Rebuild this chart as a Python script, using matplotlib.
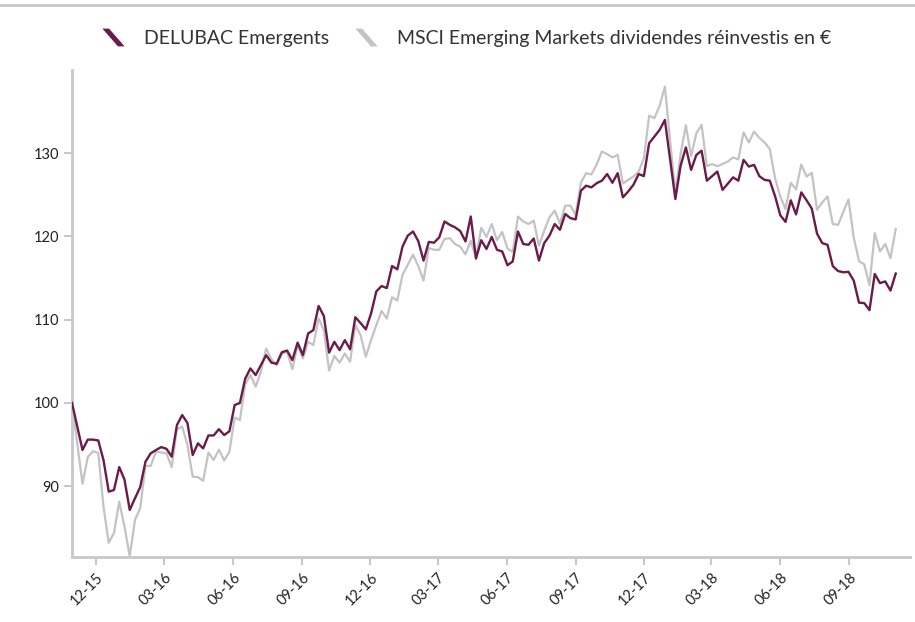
import numpy as np
import pandas as pd
import matplotlib
matplotlib.use("Agg")
import matplotlib.pyplot as plt
import matplotlib.dates as mdates
from matplotlib.lines import Line2D
from matplotlib.path import Path

plt.rcParams['font.family'] = ['Lato', 'DejaVu Sans']

start_date = "2015-10-30"
n_weeks = 158

delubac = [
    100.0, 97.2, 94.35, 95.6, 95.6, 95.5, 93.15, 89.35, 89.55, 92.3,
    90.8, 87.15, 88.55, 89.9, 92.95, 93.95, 94.35, 94.7, 94.5, 93.55,
    97.35, 98.55, 97.6, 93.75, 95.15, 94.55, 96.1, 96.1, 96.85, 96.15,
    96.6, 99.75, 100.0, 102.9, 104.15, 103.35, 104.55, 105.75, 104.85, 104.7,
    106.1, 106.3, 105.15, 107.25, 105.75, 108.35, 108.75, 111.65, 110.45, 106.05,
    107.35, 106.35, 107.55, 106.45, 110.3, 109.6, 108.85, 110.75, 113.4, 114.05,
    113.8, 116.45, 116.05, 118.8, 120.1, 120.6, 119.45, 117.1, 119.35, 119.25,
    119.9, 121.8, 121.4, 121.1, 120.65, 119.4, 122.4, 117.35, 119.55, 118.5,
    119.95, 118.4, 118.2, 116.55, 117.0, 120.6, 119.1, 119.0, 119.75, 117.1,
    119.2, 120.1, 121.5, 120.8, 122.7, 122.2, 122.05, 125.5, 126.1, 125.9,
    126.4, 126.7, 127.5, 126.45, 127.6, 124.7, 125.4, 126.2, 127.5, 127.25,
    131.2, 132.0, 132.8, 134.0, 129.3, 124.5, 128.5, 130.7, 128.0, 129.8,
    130.3, 126.7, 127.25, 127.8, 125.6, 126.35, 127.1, 126.7, 129.2, 128.4,
    128.6, 127.25, 126.8, 126.7, 124.85, 122.55, 121.75, 124.35, 122.65, 125.3,
    124.35, 123.35, 120.35, 119.2, 119.0, 116.45, 115.85, 115.7, 115.75, 114.7,
    112.05, 112.0, 111.15, 115.5, 114.4, 114.6, 113.5, 115.55,
]

msci = [
    100.0, 95.2, 90.3, 93.5, 94.2, 94.0, 87.55, 83.2, 84.4, 88.15,
    85.15, 81.6, 85.95, 87.35, 92.45, 92.45, 94.15, 94.05, 93.95, 92.3,
    96.85, 97.15, 94.95, 91.15, 91.1, 90.65, 94.05, 93.15, 94.4, 93.1,
    94.15, 98.25, 97.95, 102.2, 103.35, 101.95, 103.75, 106.55, 105.25, 104.55,
    105.95, 106.15, 104.05, 106.95, 105.35, 107.35, 106.95, 110.15, 108.75, 103.9,
    105.65, 104.85, 105.95, 104.95, 109.35, 108.15, 105.55, 107.55, 109.35, 111.05,
    110.15, 112.7, 112.3, 115.4, 116.6, 117.8, 116.45, 114.7, 118.6, 118.4,
    118.4, 119.7, 119.8, 119.1, 118.75, 117.85, 119.5, 117.4, 121.05, 119.95,
    121.5, 119.55, 120.55, 118.55, 118.15, 122.4, 121.8, 121.5, 121.9, 118.9,
    120.7, 122.3, 123.1, 121.55, 123.7, 123.7, 122.6, 126.5, 127.6, 127.45,
    128.65, 130.2, 129.9, 129.5, 129.8, 126.35, 126.8, 127.2, 127.8, 129.4,
    134.5, 134.2, 135.7, 138.0, 131.5, 125.3, 129.9, 133.35, 129.65, 132.4,
    133.4, 128.45, 128.7, 128.45, 128.7, 129.0, 129.5, 129.25, 132.5, 131.3,
    132.6, 131.85, 131.3, 130.5, 127.0, 124.8, 123.3, 126.45, 125.65, 128.65,
    127.2, 127.65, 123.2, 124.1, 124.8, 121.5, 121.4, 122.95, 124.45, 119.85,
    117.05, 116.65, 114.15, 120.4, 118.2, 119.1, 117.4, 120.9,
]

labels = ["DELUBAC Emergents", "MSCI Emerging Markets dividendes réinvestis en €"]
yticks = [90, 100, 110, 120, 130]
xtick_months = ["2015-12-01", "2016-03-01", "2016-06-01", "2016-09-01", "2016-12-01",
                "2017-03-01", "2017-06-01", "2017-09-01", "2017-12-01", "2018-03-01",
                "2018-06-01", "2018-09-01"]

dates = pd.date_range(start_date, periods=n_weeks, freq="7D")

c_dark = "#6b1a4a"
c_gray = "#c3c3c3"
c_axis = "#c8c8c8"

fig = plt.figure(figsize=(9.15, 6.22), dpi=100)
ax = fig.add_axes([0.0787, 0.1045, 0.9158, 0.783])

ax.plot(dates, msci, color=c_gray, lw=1.6, zorder=2)
ax.plot(dates, delubac, color=c_dark, lw=1.7, zorder=3)

ax.set_ylim(81.5, 140)
ax.set_xlim(pd.Timestamp(start_date), pd.Timestamp(start_date) + pd.Timedelta(days=1118))

ax.set_yticks(yticks)
ax.set_xticks(pd.to_datetime(xtick_months))
ax.xaxis.set_major_formatter(mdates.DateFormatter("%m-%y"))
ax.tick_params(axis='both', colors=c_axis, labelcolor="#222222", labelsize=10.5,
               length=6, width=1.5)
for lab in ax.get_xticklabels():
    lab.set_rotation(45)
    lab.set_ha('right')
    lab.set_rotation_mode('anchor')

for s in ['top', 'right']:
    ax.spines[s].set_visible(False)
for s in ['left', 'bottom']:
    ax.spines[s].set_color(c_axis)
    ax.spines[s].set_linewidth(2)

# top border line
fig.add_artist(Line2D([0, 1], [0.992, 0.992], transform=fig.transFigure,
                      color=c_axis, lw=2))

# legend with slanted stroke handles
verts = [(-0.5, 0.4), (-0.2, 0.4), (0.5, -0.4), (0.2, -0.4), (-0.5, 0.4)]
codes = [Path.MOVETO, Path.LINETO, Path.LINETO, Path.LINETO, Path.CLOSEPOLY]
stroke = Path(verts, codes)
handles = [Line2D([], [], marker=stroke, linestyle='none', markersize=16,
                  color=c, markeredgewidth=0) for c in (c_dark, c_gray)]
fig.legend(handles, labels, loc='center', bbox_to_anchor=(0.505, 0.938), ncol=2,
           frameon=False, fontsize=14, handletextpad=0.6, columnspacing=0.9,
           labelcolor="#333333")

fig.savefig("out.png", dpi=100)
